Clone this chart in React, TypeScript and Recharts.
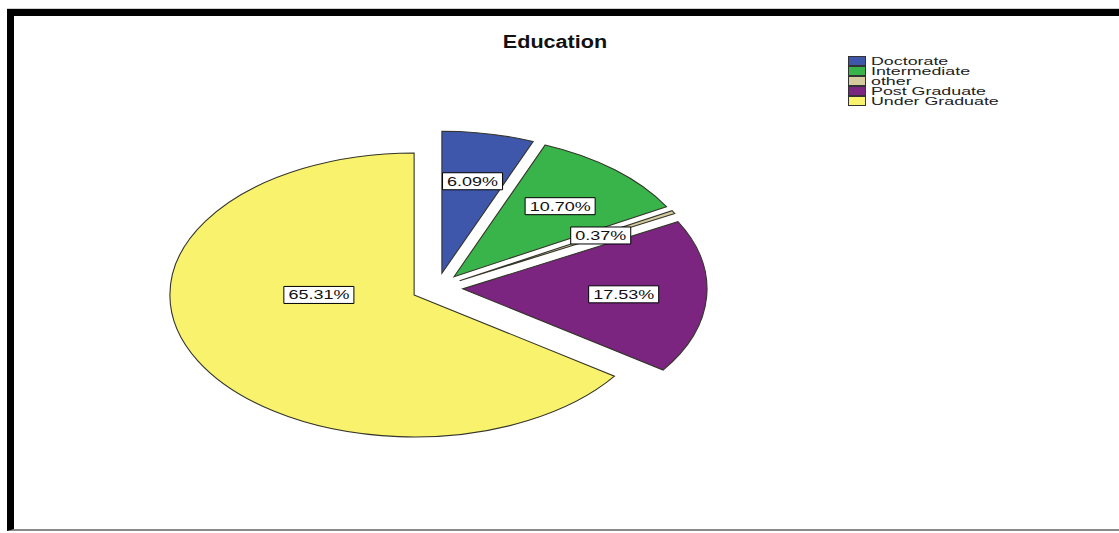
import { PieChart, Pie, Cell, Legend } from 'recharts'

const categories = ['Doctorate', 'Intermediate', 'other', 'Post Graduate', 'Under Graduate']
const percents = [6.09, 10.7, 0.37, 17.53, 65.31]
const colors = ['#3E57AB', '#38B44A', '#D4CC9E', '#7B2480', '#F8F26C']

const data = categories.map((name, i) => ({ name, value: percents[i] }))

const W = 1119
const H = 533
const XS = 1.72 // pie is drawn squashed, like the SPSS output
const TS = 1.5 // text is stretched the same way
const EXPLODE = 15
const RAD = Math.PI / 180
const FONT = '"Liberation Sans", Arial, sans-serif'

const charW: Record<string, number> = { '.': 0.278, '%': 0.889 }
const textWidth = (s: string, size: number) =>
  s.split('').reduce((w, c) => w + (charW[c] ?? 0.556), 0) * size

// centre of an exploded slice
const apex = (cx: number, cy: number, mid: number) => [
  cx + EXPLODE * XS * Math.cos(mid * RAD),
  cy - EXPLODE * Math.sin(mid * RAD),
]

const renderSector = (props: any) => {
  const { cx, cy, outerRadius, startAngle, endAngle, midAngle, fill } = props
  const [ax, ay] = apex(cx, cy, midAngle)
  const rx = outerRadius * XS
  const ry = outerRadius
  const p = (a: number) => [ax + rx * Math.cos(a * RAD), ay - ry * Math.sin(a * RAD)]
  const [x1, y1] = p(startAngle)
  const [x2, y2] = p(endAngle)
  const large = Math.abs(endAngle - startAngle) > 180 ? 1 : 0
  const sweep = endAngle < startAngle ? 1 : 0
  const d = `M${ax},${ay} L${x1},${y1} A${rx},${ry} 0 ${large} ${sweep} ${x2},${y2} Z`
  return <path d={d} fill={fill} stroke="#34342a" strokeWidth={1.1} />
}

const renderLabel = (props: any) => {
  const { cx, cy, midAngle, outerRadius, percent, index } = props
  const big = percent > 0.5
  const ang = big ? 180 : midAngle
  const dist = big ? 0.39 : 0.66
  const [ax, ay] = apex(cx, cy, midAngle)
  const x = ax + dist * outerRadius * XS * Math.cos(ang * RAD)
  const y = ay - dist * outerRadius * Math.sin(ang * RAD)
  const txt = percents[index].toFixed(2) + '%'
  const tw = textWidth(txt, 12)
  return (
    <g transform={`translate(${x},${y}) scale(${TS},1)`}>
      <rect
        x={-tw / 2 - 3}
        y={-8.5}
        width={tw + 6}
        height={17}
        fill="#fff"
        stroke="#000"
        strokeWidth={1}
        vectorEffect="non-scaling-stroke"
      />
      <text x={0} y={4.5} textAnchor="middle" fontSize={12} fontFamily={FONT} fill="#111">
        {txt}
      </text>
    </g>
  )
}

// legend keeps the data order (Recharts would sort it by name)
const renderLegend = () => (
  <div style={{ fontFamily: FONT }}>
    {categories.map((name, i) => (
      <div key={name} style={{ display: 'flex', alignItems: 'center', height: 10 }}>
        <div
          style={{
            width: 18,
            height: 10,
            background: colors[i],
            border: '1px solid #333',
            boxSizing: 'border-box',
          }}
        />
        <div
          style={{
            marginLeft: 5,
            fontSize: 11,
            lineHeight: '10px',
            color: '#222',
            whiteSpace: 'nowrap',
            transform: 'scaleX(1.62)',
            transformOrigin: 'left center',
          }}
        >
          {name}
        </div>
      </div>
    ))}
  </div>
)

export default function App() {
  return (
    <div style={{ position: 'absolute', left: 0, top: 0, width: W, height: H, background: '#fff' }}>
      <div
        style={{
          position: 'absolute',
          left: 7,
          top: 9,
          width: W - 7,
          height: 522,
          borderTop: '7px solid #000',
          borderLeft: '7px solid #000',
          borderBottom: '2px solid #8a8a8a',
          boxSizing: 'border-box',
          boxShadow: '0 -1px 0 #d0d0d0',
        }}
      />
      <div
        style={{
          position: 'absolute',
          left: 555,
          top: 32,
          fontFamily: FONT,
          fontWeight: 'bold',
          fontSize: 18,
          color: '#111',
          whiteSpace: 'nowrap',
          transform: 'translateX(-50%) scaleX(1.2)',
        }}
      >
        Education
      </div>
      <div style={{ position: 'absolute', left: 0, top: 0 }}>
        <PieChart width={W} height={H} margin={{ top: 0, right: 0, bottom: 0, left: 0 }}>
          <Pie
            data={data}
            dataKey="value"
            nameKey="name"
            cx={437}
            cy={288}
            outerRadius={142}
            startAngle={90}
            endAngle={-270}
            shape={renderSector}
            label={renderLabel}
            labelLine={false}
            isAnimationActive={false}
          >
            {data.map((d, i) => (
              <Cell key={d.name} fill={colors[i]} />
            ))}
          </Pie>
          <Legend
            content={renderLegend}
            layout="vertical"
            wrapperStyle={{ position: 'absolute', left: 848, top: 56, width: 200 }}
          />
        </PieChart>
      </div>
    </div>
  )
}
